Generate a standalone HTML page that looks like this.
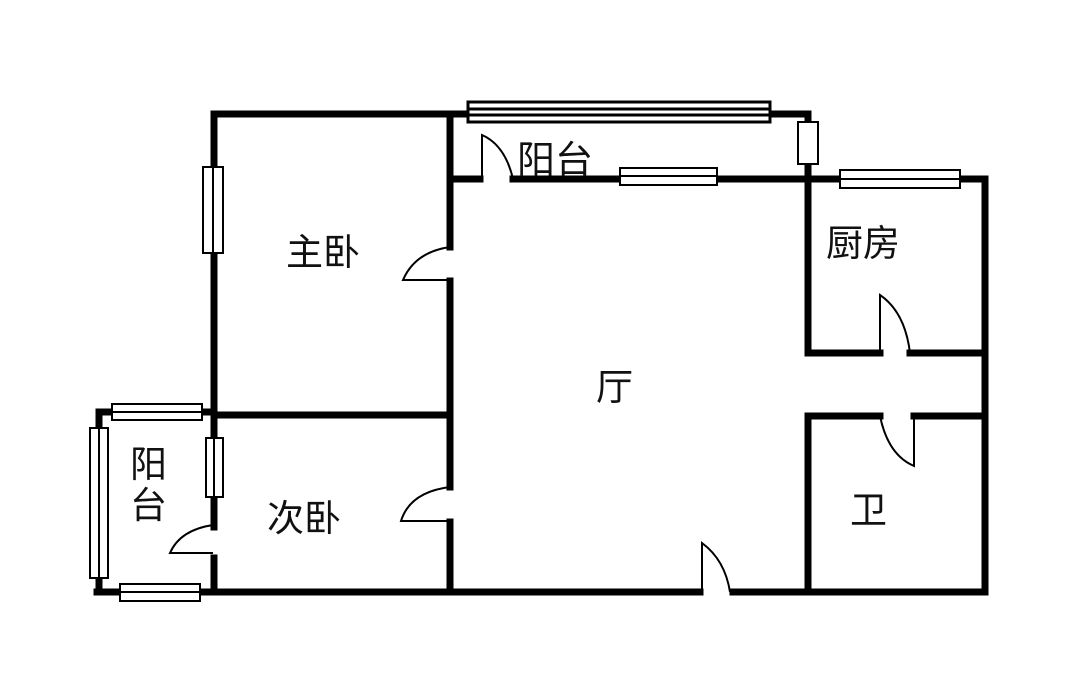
<!DOCTYPE html>
<html><head><meta charset="utf-8"><style>
html,body{margin:0;padding:0;background:#fff;}
svg{display:block;}
text{font-family:"Liberation Sans","Noto Sans CJK SC",sans-serif;fill:#111;}
</style></head><body>
<svg width="1071" height="677" viewBox="0 0 1071 677" xmlns="http://www.w3.org/2000/svg">
<g stroke="#000" stroke-width="7" fill="none" stroke-linecap="square">
  <line x1="214" y1="114" x2="470" y2="114"/>
  <line x1="770" y1="114" x2="808" y2="114"/>
  <line x1="808" y1="114" x2="808" y2="122"/>
  <line x1="808" y1="163" x2="808" y2="353"/>
  <line x1="450" y1="179" x2="480" y2="179"/>
  <line x1="513" y1="179" x2="620" y2="179"/>
  <line x1="717" y1="179" x2="840" y2="179"/>
  <line x1="960" y1="179" x2="985" y2="179"/>
  <line x1="985" y1="179" x2="985" y2="592"/>
  <line x1="808" y1="353" x2="880" y2="353"/>
  <line x1="910" y1="353" x2="985" y2="353"/>
  <line x1="808" y1="416" x2="880" y2="416"/>
  <line x1="914" y1="416" x2="985" y2="416"/>
  <line x1="808" y1="416" x2="808" y2="592"/>
  <line x1="97" y1="592" x2="120" y2="592"/>
  <line x1="200" y1="592" x2="700" y2="592"/>
  <line x1="733" y1="592" x2="985" y2="592"/>
  <line x1="214" y1="114" x2="214" y2="167"/>
  <line x1="214" y1="252" x2="214" y2="438"/>
  <line x1="214" y1="497" x2="214" y2="527"/>
  <line x1="214" y1="558" x2="214" y2="592"/>
  <line x1="450" y1="114" x2="450" y2="247"/>
  <line x1="450" y1="281" x2="450" y2="487"/>
  <line x1="450" y1="522" x2="450" y2="592"/>
  <line x1="214" y1="415" x2="450" y2="415"/>
  <line x1="99" y1="412" x2="112" y2="412"/>
  <line x1="202" y1="412" x2="214" y2="412"/>
  <line x1="99" y1="412" x2="99" y2="428"/>
  <line x1="99" y1="578" x2="99" y2="592"/>
</g>
<g stroke="#000" stroke-width="2" fill="#fff">
  <rect x="468" y="102" width="302" height="20" stroke-width="3"/>
  <line x1="468" y1="109" x2="770" y2="109" stroke-width="3"/><line x1="468" y1="115" x2="770" y2="115" stroke-width="3"/>
  <rect x="798" y="122" width="20" height="42"/>
  <rect x="620" y="168" width="97" height="17"/><line x1="620" y1="176" x2="717" y2="176"/>
  <rect x="840" y="170" width="120" height="18"/><line x1="840" y1="179" x2="960" y2="179"/>
  <rect x="203" y="167" width="20" height="86"/><line x1="213" y1="167" x2="213" y2="253"/>
  <rect x="206" y="438" width="17" height="59"/><line x1="214" y1="438" x2="214" y2="497"/>
  <rect x="112" y="404" width="90" height="16"/><line x1="112" y1="412" x2="202" y2="412"/>
  <rect x="90" y="428" width="18" height="150"/><line x1="99" y1="428" x2="99" y2="578"/>
  <rect x="120" y="584" width="80" height="17"/><line x1="120" y1="592" x2="200" y2="592"/>
</g>
<g stroke="#000" stroke-width="2" fill="none">
  <path d="M482 179 L482 135 Q505 145 513 179"/>
  <path d="M450 280 L403 280 Q415 252 450 247"/>
  <path d="M450 521 L401 521 Q410 492 450 487"/>
  <path d="M213 553 L170 553 Q180 530 213 525"/>
  <path d="M702 592 L702 543 Q725 560 730 592"/>
  <path d="M880 353 L880 295 Q905 312 910 353"/>
  <path d="M914 416 L914 466 Q888 455 880 416"/>
</g>
<g font-size="37">
  <text x="286" y="265">主卧</text>
  <text x="517" y="173" font-size="38">阳台</text>
  <text x="596" y="400">厅</text>
  <text x="826" y="256">厨房</text>
  <text x="850" y="523">卫</text>
  <text x="267" y="531">次卧</text>
  <text x="130" y="477">阳</text>
  <text x="130" y="518">台</text>
</g>
</svg>
</body></html>
